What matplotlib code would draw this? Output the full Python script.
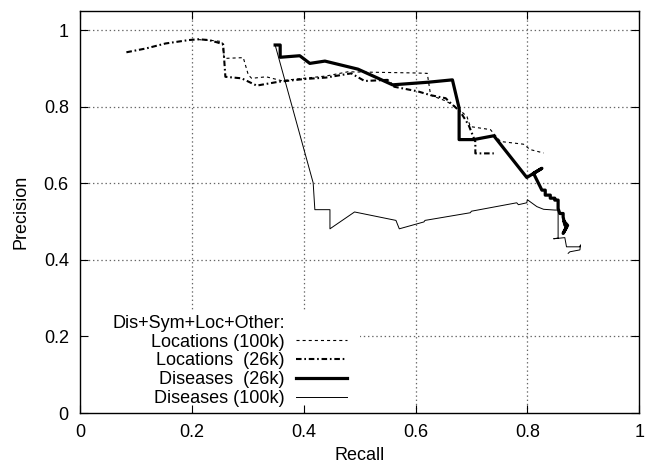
import matplotlib
matplotlib.use("Agg")
import matplotlib.pyplot as plt
from matplotlib.patches import Rectangle

# Locations (100k) - thin dashed
loc100_recall = [0.212, 0.235, 0.254, 0.258, 0.292, 0.301, 0.307, 0.333, 0.36, 0.40, 0.44, 0.479,
                 0.52, 0.56, 0.60, 0.621, 0.627, 0.654, 0.675, 0.692, 0.698, 0.734, 0.752, 0.793,
                 0.805, 0.829]
loc100_prec = [0.975, 0.973, 0.970, 0.926, 0.928, 0.883, 0.874, 0.878, 0.868, 0.874, 0.880, 0.891,
               0.890, 0.889, 0.888, 0.887, 0.83, 0.815, 0.797, 0.774, 0.748, 0.740, 0.709, 0.702,
               0.688, 0.679]

# Locations (26k) - dash-dot
loc26_recall = [0.083, 0.118, 0.153, 0.195, 0.212, 0.230, 0.245, 0.256, 0.260, 0.289, 0.316, 0.355,
                0.40, 0.44, 0.485, 0.509, 0.55, 0.562, 0.604, 0.627, 0.654, 0.66, 0.68, 0.695,
                0.707, 0.707, 0.74]
loc26_prec = [0.942, 0.952, 0.965, 0.974, 0.976, 0.974, 0.968, 0.963, 0.878, 0.874, 0.855, 0.865,
              0.872, 0.876, 0.887, 0.867, 0.870, 0.852, 0.840, 0.830, 0.822, 0.813, 0.787, 0.752,
              0.708, 0.678, 0.678]

# Diseases (26k) - thick solid
dis26_recall = [0.349, 0.358, 0.358, 0.393, 0.411, 0.438, 0.497, 0.559, 0.624, 0.666, 0.678, 0.678,
                0.704, 0.740, 0.799, 0.826, 0.811, 0.826, 0.832, 0.832, 0.841, 0.841, 0.849, 0.849,
                0.855, 0.855, 0.858, 0.864, 0.864, 0.867, 0.870, 0.864, 0.872, 0.866]
dis26_prec = [0.961, 0.961, 0.929, 0.933, 0.913, 0.919, 0.898, 0.857, 0.864, 0.870, 0.796, 0.714,
              0.714, 0.724, 0.615, 0.639, 0.626, 0.582, 0.582, 0.569, 0.569, 0.561, 0.561, 0.556,
              0.556, 0.534, 0.521, 0.521, 0.512, 0.491, 0.486, 0.469, 0.490, 0.500]

# Diseases (100k) - thin solid
dis100_recall = [0.349, 0.417, 0.420, 0.447, 0.447, 0.491, 0.565, 0.571, 0.615, 0.617, 0.698, 0.700,
                 0.781, 0.784, 0.799, 0.800, 0.817, 0.829, 0.849, 0.855, 0.855, 0.847, 0.867, 0.870,
                 0.894, 0.895, 0.894, 0.876, 0.873]
dis100_prec = [0.961, 0.601, 0.531, 0.531, 0.481, 0.525, 0.503, 0.481, 0.499, 0.503, 0.523, 0.527,
               0.549, 0.544, 0.549, 0.557, 0.539, 0.532, 0.530, 0.530, 0.457, 0.455, 0.458, 0.434,
               0.434, 0.439, 0.426, 0.421, 0.417]

ticks = [0, 0.2, 0.4, 0.6, 0.8, 1]
tick_labels = ["0", "0.2", "0.4", "0.6", "0.8", "1"]
legend_title = "Dis+Sym+Loc+Other:"

plt.rcParams['font.family'] = ['Liberation Sans', 'DejaVu Sans']
plt.rcParams['font.size'] = 13
plt.rcParams['lines.scale_dashes'] = False

fig = plt.figure(figsize=(6.45, 4.67), dpi=100)
ax = fig.add_axes([0.124, 0.1156, 0.867, 0.861])
ax.set_xlim(0, 1)
ax.set_ylim(0, 1.05)

# dotted grid, drawn under the key box
for t in ticks[1:-1]:
    ax.axvline(t, color='#666666', lw=0.9, ls=(0, (1, 2)), zorder=1)
for t in ticks[1:]:
    ax.axhline(t, color='#666666', lw=0.9, ls=(0, (1, 2)), zorder=1)

l1, = ax.plot(loc100_recall, loc100_prec, color='black', lw=0.8, ls=(0, (2.2, 2.2)), zorder=3)
l2, = ax.plot(loc26_recall, loc26_prec, color='black', lw=1.5, ls=(0, (4, 2, 1.2, 2)), zorder=3)
l3, = ax.plot(dis26_recall, dis26_prec, color='black', lw=2.3, zorder=3)
l4, = ax.plot(dis100_recall, dis100_prec, color='black', lw=0.7, zorder=3)

# opaque key area like gnuplot
ax.add_patch(Rectangle((0.003, 0.002), 0.497, 0.252, transform=ax.transAxes,
                       facecolor='white', edgecolor='none', zorder=2))
ax.text(0.059, 0.222, legend_title, transform=ax.transAxes, ha='left', va='center', zorder=4)
leg = ax.legend([l1, l2, l3, l4],
                ["Locations (100k)", "Locations  (26k)", "Diseases  (26k)", "Diseases (100k)"],
                loc='lower right', bbox_to_anchor=(0.478, 0.015), bbox_transform=ax.transAxes,
                markerfirst=False, frameon=False, handlelength=2.85, handletextpad=0.6,
                labelspacing=0.1, borderpad=0, borderaxespad=0)

ax.set_xticks(ticks)
ax.set_xticklabels(tick_labels)
ax.set_yticks(ticks)
ax.set_yticklabels(tick_labels)
ax.tick_params(direction='in', length=6, width=0.8, top=True, right=True, pad=8)
ax.set_axisbelow(False)
for s in ax.spines.values():
    s.set_linewidth(1.0)

ax.set_xlabel("Recall", labelpad=4)
ax.set_ylabel("Precision", labelpad=10)

fig.savefig("out.png", dpi=100)
